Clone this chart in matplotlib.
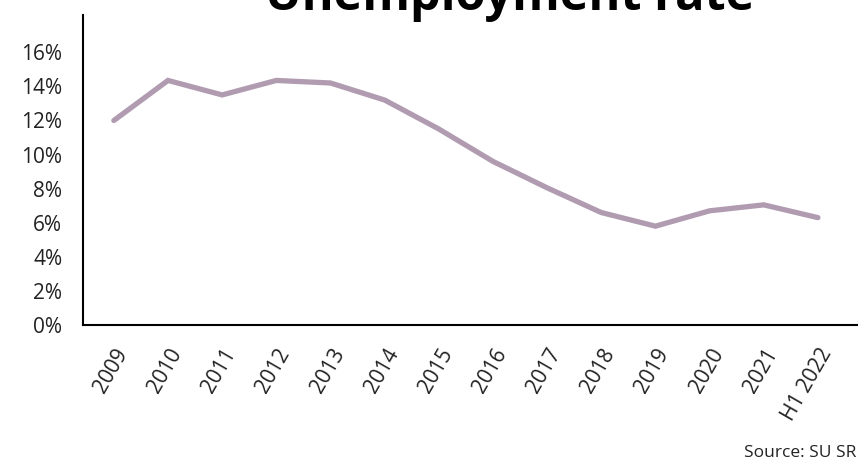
import matplotlib
matplotlib.use("Agg")
import matplotlib.pyplot as plt
from matplotlib.ticker import PercentFormatter

plt.rcParams['font.family'] = ['Open Sans', 'DejaVu Sans']

years = ["2009", "2010", "2011", "2012", "2013", "2014", "2015", "2016",
         "2017", "2018", "2019", "2020", "2021", "H1 2022"]
unemployment = [12.0, 14.35, 13.5, 14.35, 14.2, 13.2, 11.5, 9.6,
                8.05, 6.6, 5.8, 6.7, 7.05, 6.3]
y_ticks = [0, 2, 4, 6, 8, 10, 12, 14, 16]

fig = plt.figure(figsize=(8.58, 4.63), dpi=100)
ax = fig.add_axes([0.0967, 0.298, 0.9033, 0.67])

x = list(range(len(years)))
ax.plot(x, unemployment, color="#B09BB1", linewidth=3.8, solid_capstyle="round",
        solid_joinstyle="miter")

ax.set_xlim(-0.57, 13.74)
ax.set_ylim(0, 18.2)
ax.set_yticks(y_ticks)
ax.yaxis.set_major_formatter(PercentFormatter(decimals=0))
ax.set_xticks(x)
ax.set_xticklabels(years, rotation=60, ha="right", rotation_mode="anchor")
ax.tick_params(axis="both", length=0, labelsize=15, colors="#222222")
ax.tick_params(axis="x", pad=14)
ax.tick_params(axis="y", pad=15)

for side in ("top", "right"):
    ax.spines[side].set_visible(False)
for side in ("left", "bottom"):
    ax.spines[side].set_linewidth(1.5)
    ax.spines[side].set_color("black")

fig.text(0.594, 0.978, "Unemployment rate", ha="center", va="baseline",
         fontsize=35, fontweight="bold", color="black")
fig.text(0.998, 0.012, "Source: SU SR", ha="right", va="baseline",
         fontsize=12.5, color="#222222")

fig.savefig("out.png", dpi=100)
